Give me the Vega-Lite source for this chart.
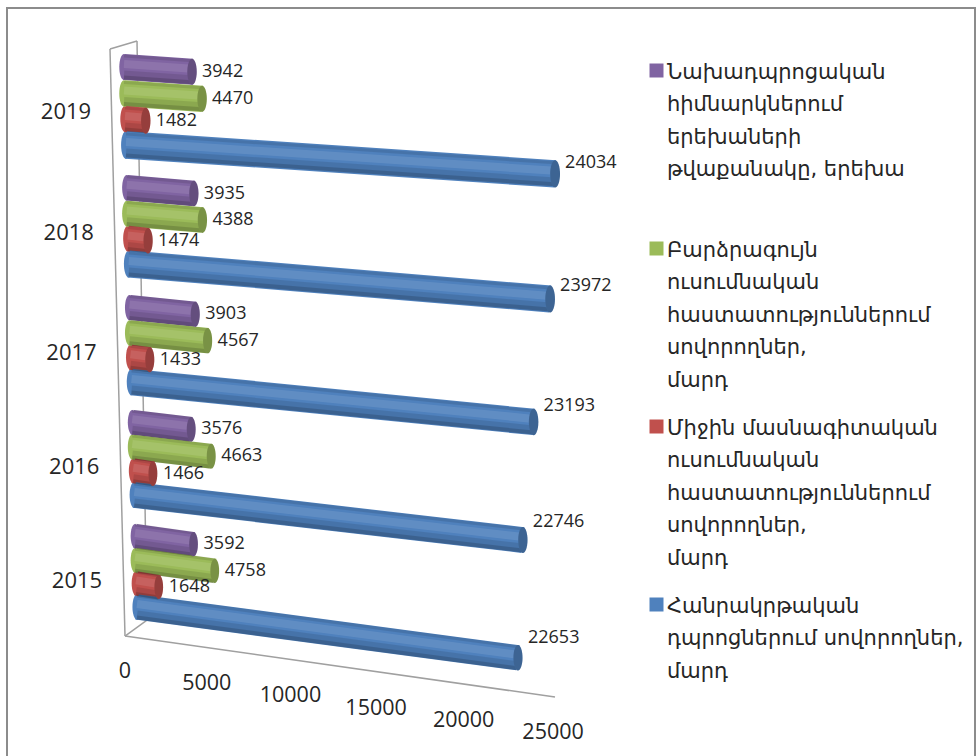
{
"$schema":"https://vega.github.io/schema/vega-lite/v6.json",
"autosize":"none","width":968,"height":750,"padding":{"left":7,"top":8,"right":3,"bottom":-2},
"background":"white",
"view":{"stroke":"#8c8c8c","strokeWidth":2,"fill":"white"},
"config":{"axis":{"disable":true}},
"data":{"values":[
{"year":2015,"series":"preschool","value":3592},{"year":2015,"series":"higher","value":4758},{"year":2015,"series":"vocational","value":1648},{"year":2015,"series":"general","value":22653},
{"year":2016,"series":"preschool","value":3576},{"year":2016,"series":"higher","value":4663},{"year":2016,"series":"vocational","value":1466},{"year":2016,"series":"general","value":22746},
{"year":2017,"series":"preschool","value":3903},{"year":2017,"series":"higher","value":4567},{"year":2017,"series":"vocational","value":1433},{"year":2017,"series":"general","value":23193},
{"year":2018,"series":"preschool","value":3935},{"year":2018,"series":"higher","value":4388},{"year":2018,"series":"vocational","value":1474},{"year":2018,"series":"general","value":23972},
{"year":2019,"series":"preschool","value":3942},{"year":2019,"series":"higher","value":4470},{"year":2019,"series":"vocational","value":1482},{"year":2019,"series":"general","value":24034}
]},
"transform":[
{"calculate":"2019-datum.year","as":"yr"},
{"calculate":"{preschool:-2,higher:-2,vocational:-1,general:0}[datum.series]","as":"dx"},
{"calculate":"{preschool:0.675,higher:0.446,vocational:0.225,general:0}[datum.series]*(1-0.0225*datum.yr)","as":"off"},
{"calculate":"datum.year+{2015:0,2016:-0.03,2017:-0.052,2018:-0.03,2019:0}[datum.year]","as":"base"},
{"calculate":"-175+160.6*datum.yr+datum.dx*58.4","as":"x00"},
{"calculate":"datum.x00+234","as":"xs"},
{"calculate":"datum.x00-234+datum.value*(1.139-0.0105*datum.yr)-datum.value*datum.value*(3.2e-6+0.24e-6*datum.yr)","as":"xe"},
{"calculate":"datum.base+datum.off","as":"ys"},
{"calculate":"datum.ys-datum.value*(1.04e-5+2.25e-6*datum.yr)","as":"ye"},
{"calculate":"26-0.5*datum.yr+datum.value*6e-5","as":"w"},
{"calculate":"datum.w*datum.w","as":"sz"},
{"calculate":"datum.xe+584","as":"lx"},
{"calculate":"datum.ye+(datum.series=='general'?(11+2.25*datum.yr)/115.5:0)","as":"ly"}
],
"layer":[
{"data":{"values":[{"edge":"frame"}]},"mark":{"type":"rule","stroke":"#a0a0a0","strokeWidth":1.5},
 "encoding":{"x":{"datum":-876,"type":"quantitative","scale":{"domain":[-6891,49640],"range":[0,968],"nice":false,"zero":false}},
 "y":{"datum":2019.831,"type":"quantitative","scale":{"domain":[2013.693,2020.186],"range":[750,0],"nice":false,"zero":false}},"x2":{"datum":701},"y2":{"datum":2019.9}}},
{"data":{"values":[{"edge":"frame"}]},"mark":{"type":"rule","stroke":"#a0a0a0","strokeWidth":1.5},
 "encoding":{"x":{"datum":-876,"type":"quantitative"},"y":{"datum":2019.831,"type":"quantitative"},"x2":{"datum":0},"y2":{"datum":2014.749}}},
{"data":{"values":[{"edge":"frame"}]},"mark":{"type":"rule","stroke":"#a0a0a0","strokeWidth":1.5},
 "encoding":{"x":{"datum":701,"type":"quantitative"},"y":{"datum":2019.9,"type":"quantitative"},"x2":{"datum":1285},"y2":{"datum":2014.887}}},
{"data":{"values":[{"edge":"frame"}]},"mark":{"type":"rule","stroke":"#a0a0a0","strokeWidth":1.5},
 "encoding":{"x":{"datum":0,"type":"quantitative"},"y":{"datum":2014.749,"type":"quantitative"},"x2":{"datum":1285},"y2":{"datum":2014.887}}},
{"data":{"values":[{"edge":"frame"}]},"mark":{"type":"rule","stroke":"#a0a0a0","strokeWidth":1.5},
 "encoding":{"x":{"datum":0,"type":"quantitative"},"y":{"datum":2014.749,"type":"quantitative"},"x2":{"datum":25112},"y2":{"datum":2014.221}}},
{"mark":{"type":"point","filled":true,"opacity":1,"shape":"M0,-1A0.36,1,0,1,1,0,1A0.36,1,0,1,1,0,-1Z"},
 "encoding":{"x":{"field":"xs","type":"quantitative"},"y":{"field":"ys","type":"quantitative"},
 "size":{"field":"sz","type":"quantitative","scale":null,"legend":null},
 "color":{"field":"series","type":"nominal","scale":{"domain":["preschool","higher","vocational","general"],"range":["#8064a2","#9bbb59","#c0504d","#4f81bd"]},
  "legend":{"title":null,"orient":"none","legendX":639,"legendY":52,"symbolType":"square","symbolSize":196,"symbolStrokeWidth":0,"symbolOpacity":1,
   "labelFont":"DejaVu Sans","labelFontSize":21,"labelColor":"#262626","labelLimit":340,"labelOffset":0,"labelBaseline":"top","gridAlign":"all","rowPadding":25,
   "labelExpr":"{preschool:['Նախադպրոցական','հիմնարկներում','երեխաների','թվաքանակը, երեխա'],higher:['Բարձրագույն','ուսումնական','հաստատություններում','սովորողներ,','մարդ'],vocational:['Միջին մասնագիտական','ուսումնական','հաստատություններում','սովորողներ,','մարդ'],general:['Հանրակրթական','դպրոցներում սովորողներ,','մարդ']}[datum.label]",
   "encoding":{"labels":{"lineHeight":{"value":32.5},"dy":{"value":-9}}}}}}},
{"mark":{"type":"rule"},"encoding":{"x":{"field":"xs","type":"quantitative"},"y":{"field":"ys","type":"quantitative"},"x2":{"field":"xe"},"y2":{"field":"ye"},
 "size":{"field":"w","type":"quantitative","scale":null,"legend":null},"color":{"field":"series","type":"nominal","legend":null}}},
{"mark":{"type":"rule","stroke":"black","opacity":0.1,"strokeWidth":3,"yOffset":-11,"y2Offset":-11},"encoding":{"x":{"field":"xs","type":"quantitative"},"y":{"field":"ys","type":"quantitative"},"x2":{"field":"xe"},"y2":{"field":"ye"}}},
{"mark":{"type":"rule","stroke":"white","opacity":0.1,"strokeWidth":8,"yOffset":-3,"y2Offset":-3},"encoding":{"x":{"field":"xs","type":"quantitative"},"y":{"field":"ys","type":"quantitative"},"x2":{"field":"xe"},"y2":{"field":"ye"}}},
{"mark":{"type":"rule","stroke":"black","opacity":0.1,"strokeWidth":9,"yOffset":8,"y2Offset":8},"encoding":{"x":{"field":"xs","type":"quantitative"},"y":{"field":"ys","type":"quantitative"},"x2":{"field":"xe"},"y2":{"field":"ye"}}},
{"mark":{"type":"rule","stroke":"black","opacity":0.15,"strokeWidth":4,"yOffset":10.5,"y2Offset":10.5},"encoding":{"x":{"field":"xs","type":"quantitative"},"y":{"field":"ys","type":"quantitative"},"x2":{"field":"xe"},"y2":{"field":"ye"}}},
{"mark":{"type":"point","filled":true,"opacity":1,"shape":"M0,-1A0.36,1,0,1,1,0,1A0.36,1,0,1,1,0,-1Z"},"encoding":{"x":{"field":"xe","type":"quantitative"},"y":{"field":"ye","type":"quantitative"},
 "size":{"field":"sz","type":"quantitative","scale":null,"legend":null},"color":{"field":"series","type":"nominal","legend":null}}},
{"mark":{"type":"point","filled":true,"fill":"black","opacity":0.22,"shape":"M0,-1A0.36,1,0,1,1,0,1A0.36,1,0,1,1,0,-1Z"},"encoding":{"x":{"field":"xe","type":"quantitative"},"y":{"field":"ye","type":"quantitative"},
 "size":{"field":"sz","type":"quantitative","scale":null,"legend":null}}},
{"mark":{"type":"text","align":"left","baseline":"middle","font":"Open Sans","fontSize":18,"fill":"#262626"},
 "encoding":{"x":{"field":"lx","type":"quantitative"},"y":{"field":"ly","type":"quantitative"},"text":{"field":"value","type":"nominal"}}},
{"data":{"values":[{"tick":0},{"tick":5000},{"tick":10000},{"tick":15000},{"tick":20000},{"tick":25000}]},
 "transform":[{"calculate":"datum.tick-1400*(datum.tick/25000)*(1-datum.tick/25000)","as":"tx"},{"calculate":"2014.437-datum.tick*2.11e-5","as":"ty"}],
 "mark":{"type":"text","align":"center","baseline":"middle","font":"Open Sans","fontSize":21.5,"fill":"#262626"},
 "encoding":{"x":{"field":"tx","type":"quantitative"},"y":{"field":"ty","type":"quantitative"},"text":{"field":"tick","type":"nominal"}}},
{"data":{"values":[{"yearLabel":2015},{"yearLabel":2016},{"yearLabel":2017},{"yearLabel":2018},{"yearLabel":2019}]},
 "transform":[{"calculate":"-2803-160.6*(datum.yearLabel-2015)","as":"tx"},{"calculate":"datum.yearLabel+{2015:0,2016:-0.03,2017:-0.052,2018:-0.03,2019:0}[datum.yearLabel]+0.225+(datum.yearLabel-2015)*0.015","as":"ty"}],
 "mark":{"type":"text","align":"center","baseline":"middle","font":"Open Sans","fontSize":22,"fill":"#262626"},
 "encoding":{"x":{"field":"tx","type":"quantitative"},"y":{"field":"ty","type":"quantitative"},"text":{"field":"yearLabel","type":"nominal"}}}
]
}
